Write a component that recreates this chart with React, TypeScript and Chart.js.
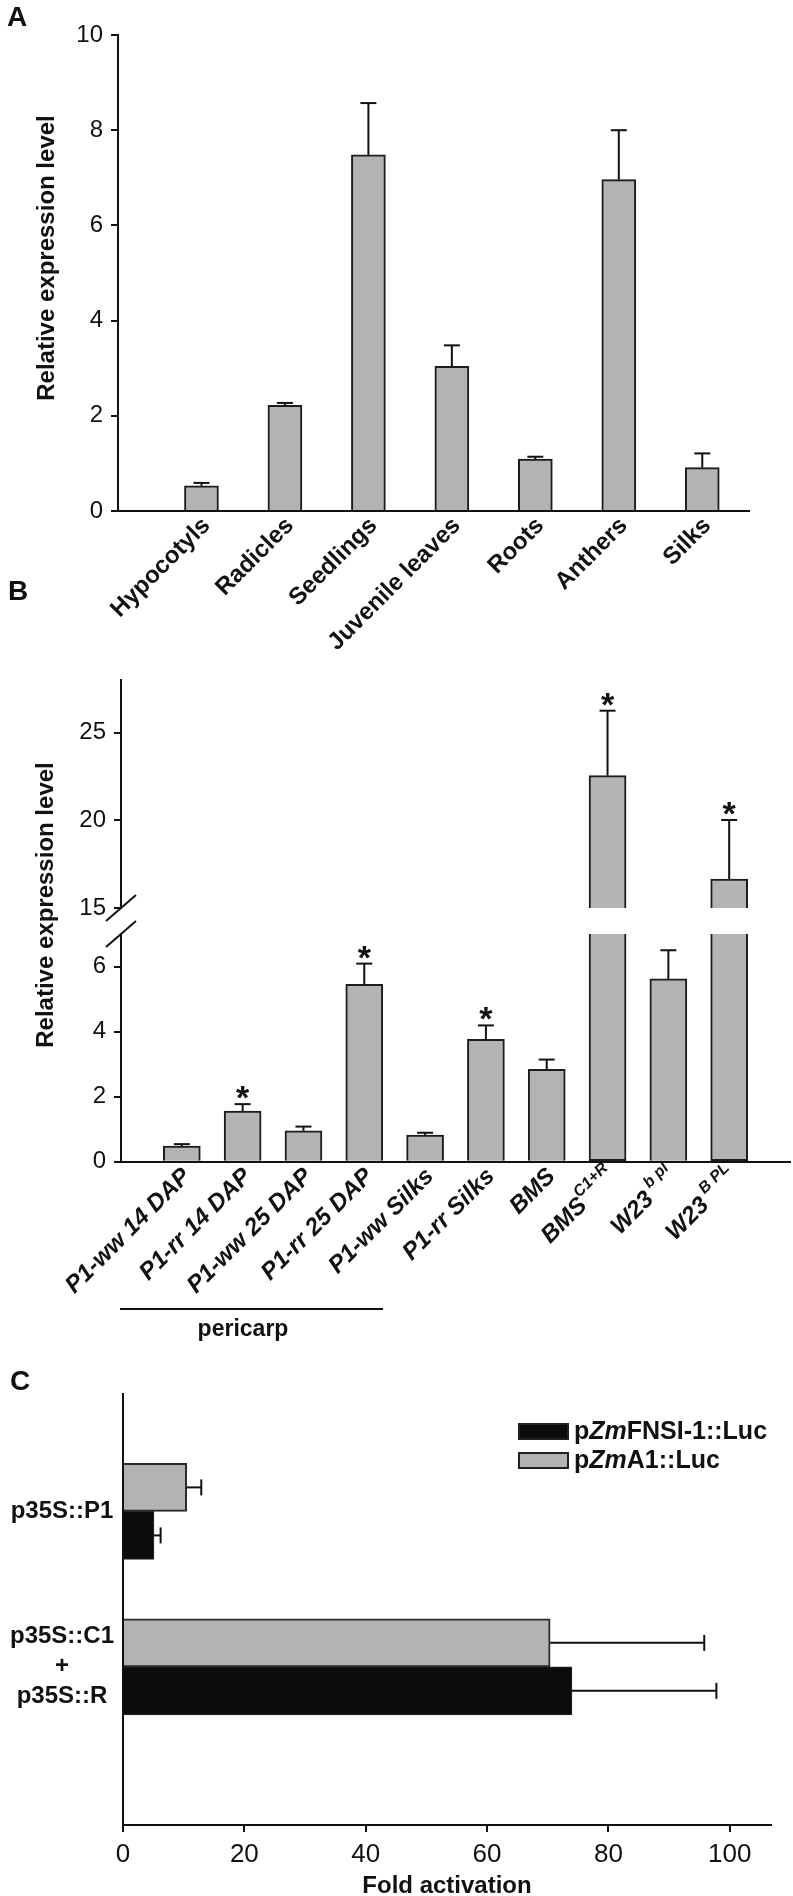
import React, { useEffect, useRef } from 'react';
import { Chart, registerables } from 'chart.js';

Chart.register(...registerables);

const FONT = '"Liberation Sans", Arial, Helvetica, sans-serif';
const INK = '#111111';
const BAR_GRAY = '#b3b3b3';
const BAR_EDGE = '#1c1c1c';
const BAR_BLACK = '#0c0c0c';

// ---------------- Panel A data ----------------
const tissuesA = ['Hypocotyls', 'Radicles', 'Seedlings', 'Juvenile leaves', 'Roots', 'Anthers', 'Silks'];
const expressionA = [0.53, 2.22, 7.48, 3.04, 1.09, 6.96, 0.91];
const errorTopA = [0.59, 2.27, 8.57, 3.48, 1.14, 8.0, 1.21];
const yTicksA = [0, 2, 4, 6, 8, 10];
const yTitle = 'Relative expression level';

// ---------------- Panel B data ----------------
const samplesB = ['P1-ww 14 DAP', 'P1-rr 14 DAP', 'P1-ww 25 DAP', 'P1-rr 25 DAP', 'P1-ww Silks', 'P1-rr Silks', 'BMS', 'BMS', 'W23', 'W23'];
const superB = ['', '', '', '', '', '', '', 'C1+R', ' b pl', ' B PL'];
const expressionB = [0.48, 1.56, 0.95, 5.45, 0.82, 3.76, 2.84, 22.55, 5.62, 16.65];
const errorTopB = [0.54, 1.77, 1.08, 6.09, 0.89, 4.19, 3.14, 26.25, 6.5, 20.02];
const significantB = [false, true, false, true, false, true, false, true, false, true];
const yTicksBLow = [0, 2, 4, 6];
const yTicksBHigh = [15, 20, 25];
const breakLow = 7;
const breakHigh = 15;
const topB = 28;
const groupLabelB = 'pericarp';

// ---------------- Panel C data ----------------
const constructsC = [['p35S::P1'], ['p35S::C1', '+', 'p35S::R']];
const foldA1 = [10.5, 70.4];
const errA1 = [12.9, 95.8];
const foldFNSI = [5.1, 74.0];
const errFNSI = [6.2, 97.8];
const xTicksC = [0, 20, 40, 60, 80, 100];
const xTitleC = 'Fold activation';

// ---------------- layout (page coords) ----------------
const W = 793;
const TOP_A = 0, H_A = 660;
const TOP_B = 540, H_B = 860;
const TOP_C = 1340, H_C = 556;
const C_XAXIS_H = 40;

const f = (size: number, bold = true, italic = false) =>
  `${italic ? 'italic ' : ''}${bold ? 'bold ' : ''}${size}px ${FONT}`;

function text(ctx: CanvasRenderingContext2D, s: string, font: string, x: number, y: number,
  align: CanvasTextAlign = 'left', baseline: CanvasTextBaseline = 'alphabetic', angle = 0) {
  ctx.save();
  ctx.translate(x, y);
  if (angle) ctx.rotate(angle);
  ctx.font = font;
  ctx.textAlign = align;
  ctx.textBaseline = baseline;
  ctx.fillStyle = INK;
  ctx.fillText(s, 0, 0);
  ctx.restore();
}

type Seg = { t: string; font: string; dy?: number };

function richRotated(ctx: CanvasRenderingContext2D, segs: Seg[], x: number, y: number, angle: number) {
  ctx.save();
  ctx.translate(x, y);
  ctx.rotate(angle);
  ctx.textBaseline = 'middle';
  ctx.textAlign = 'left';
  ctx.fillStyle = INK;
  const w = segs.map(s => { ctx.font = s.font; return ctx.measureText(s.t).width; });
  let cx = -w.reduce((a, b) => a + b, 0);
  segs.forEach((s, k) => { ctx.font = s.font; ctx.fillText(s.t, cx, s.dy || 0); cx += w[k]; });
  ctx.restore();
}

function richLeft(ctx: CanvasRenderingContext2D, segs: Seg[], x: number, y: number) {
  ctx.save();
  ctx.textBaseline = 'middle';
  ctx.textAlign = 'left';
  ctx.fillStyle = INK;
  let cx = x;
  segs.forEach(s => { ctx.font = s.font; ctx.fillText(s.t, cx, y); cx += ctx.measureText(s.t).width; });
  ctx.restore();
}

function line(ctx: CanvasRenderingContext2D, x1: number, y1: number, x2: number, y2: number, w = 2) {
  ctx.save();
  ctx.strokeStyle = INK;
  ctx.lineWidth = w;
  ctx.beginPath();
  ctx.moveTo(x1, y1);
  ctx.lineTo(x2, y2);
  ctx.stroke();
  ctx.restore();
}

const yAxisCommon = (width: number, tickValues: number[]) => ({
  type: 'linear' as const,
  position: 'left' as const,
  afterBuildTicks: (s: any) => { s.ticks = tickValues.map(v => ({ value: v })); },
  grid: { drawOnChartArea: false, drawTicks: true, tickLength: 7, color: INK, lineWidth: 2 },
  border: { display: true, color: INK, width: 2 },
  ticks: { font: { size: 24, family: FONT }, color: INK, padding: 8 },
  afterFit: (s: any) => { s.width = width; },
});

export default function App() {
  const refA = useRef<HTMLCanvasElement>(null);
  const refB = useRef<HTMLCanvasElement>(null);
  const refC = useRef<HTMLCanvasElement>(null);

  useEffect(() => {
    Chart.defaults.font.family = FONT;
    Chart.defaults.color = INK;

    // ---------------- Panel A ----------------
    const pluginA = {
      id: 'panelA',
      afterDraw(chart: any) {
        const ctx = chart.ctx as CanvasRenderingContext2D;
        const yS = chart.scales.y;
        const meta = chart.getDatasetMeta(0);
        const o = TOP_A;
        text(ctx, 'A', f(28), 7, 26 - o);
        text(ctx, yTitle, f(24), 47, 258 - o, 'center', 'middle', -Math.PI / 2);
        meta.data.forEach((el: any, i: number) => {
          const ye = yS.getPixelForValue(errorTopA[i]);
          line(ctx, el.x, el.y, el.x, ye);
          line(ctx, el.x - 8, ye, el.x + 8, ye);
          const ax = el.x + 5;
          const ay = chart.chartArea.bottom + 11;
          richRotated(ctx, [{ t: tissuesA[i], font: f(24) }], ax, ay, -Math.PI / 4);
        });
      },
    };
    const chartA = new Chart(refA.current!, {
      type: 'bar',
      data: {
        datasets: [{
          data: expressionA.map((v, i) => ({ x: i, y: v })),
          backgroundColor: BAR_GRAY, borderColor: BAR_EDGE, borderWidth: 2,
          barThickness: 34, borderSkipped: 'start',
        }],
      },
      options: {
        responsive: false, animation: false,
        layout: { padding: { top: 35 - TOP_A, bottom: TOP_A + H_A - 511, left: 0, right: W - 749 } },
        plugins: { legend: { display: false }, tooltip: { enabled: false } },
        scales: {
          x: {
            type: 'linear', min: -1, max: 6.56, offset: false,
            grid: { display: false }, ticks: { display: false },
            border: { display: true, color: INK, width: 2 },
            afterFit: (s: any) => { s.height = 0; },
          },
          y: { ...yAxisCommon(118, yTicksA), min: 0, max: 10 },
        },
      } as any,
      plugins: [pluginA],
    });

    // ---------------- Panel B ----------------
    const pluginB = {
      id: 'panelB',
      afterDraw(chart: any) {
        const ctx = chart.ctx as CanvasRenderingContext2D;
        const o = TOP_B;
        const low = chart.scales.yLow;
        const high = chart.scales.yHigh;
        text(ctx, 'B', f(28), 8, 600 - o);
        text(ctx, yTitle, f(24), 46, 905 - o, 'center', 'middle', -Math.PI / 2);
        // axis break marks
        const axX = chart.chartArea.left;
        const yb1 = high.bottom;
        const yb2 = low.top;
        line(ctx, axX - 15, yb1 + 13, axX + 15, yb1 - 13);
        line(ctx, axX - 15, yb2 + 13, axX + 15, yb2 - 13);
        const metaLow = chart.getDatasetMeta(0);
        const metaHigh = chart.getDatasetMeta(1);
        expressionB.forEach((v, i) => {
          const broken = v > breakLow;
          const el: any = broken ? metaHigh.data[i] : metaLow.data[i];
          const sc = broken ? high : low;
          const ye = sc.getPixelForValue(errorTopB[i]);
          line(ctx, el.x, el.y, el.x, ye);
          line(ctx, el.x - 8, ye, el.x + 8, ye);
          if (significantB[i]) text(ctx, '*', f(34), el.x, ye + 5, 'center', 'alphabetic');
          const segs: Seg[] = [{ t: samplesB[i], font: f(24, true, true) }];
          if (superB[i]) segs.push({ t: superB[i], font: f(16, true, true), dy: -10 });
          richRotated(ctx, segs, el.x + 5, chart.chartArea.bottom + 11, -Math.PI / 4);
        });
        line(ctx, 120, 1309 - o, 383, 1309 - o);
        text(ctx, groupLabelB, f(23), 243, 1330 - o, 'center', 'middle');
      },
    };
    const chartB = new Chart(refB.current!, {
      type: 'bar',
      data: {
        datasets: [
          {
            data: expressionB.map((v, i) => ({ x: i, y: Math.min(v, breakLow) })),
            yAxisID: 'yLow', xAxisID: 'x', grouped: false,
            backgroundColor: BAR_GRAY, borderColor: BAR_EDGE, borderWidth: 2, barThickness: 37,
            borderSkipped: (c: any) => (expressionB[c.dataIndex] > breakLow ? 'top' : 'start'),
          },
          {
            data: expressionB.map((v, i) => ({ x: i, y: v > breakLow ? [breakHigh, v] : null })),
            yAxisID: 'yHigh', xAxisID: 'x', grouped: false,
            backgroundColor: BAR_GRAY, borderColor: BAR_EDGE, borderWidth: 2, barThickness: 37,
            borderSkipped: 'bottom',
          },
        ],
      },
      options: {
        responsive: false, animation: false,
        layout: { padding: { top: 680 - TOP_B, bottom: TOP_B + H_B - 1161.7, left: 0, right: W - 790 } },
        plugins: { legend: { display: false }, tooltip: { enabled: false } },
        scales: {
          x: {
            type: 'linear', min: -1, max: 10, offset: false,
            grid: { display: false }, ticks: { display: false },
            border: { display: true, color: INK, width: 2 },
            afterFit: (s: any) => { s.height = 0; },
          },
          yLow: { ...yAxisCommon(121, yTicksBLow), min: 0, max: breakLow, stack: 'b', stackWeight: 227.7, weight: 1 },
          yGap: {
            type: 'linear', position: 'left', min: 0, max: 1, stack: 'b', stackWeight: 26, weight: 2,
            grid: { display: false }, border: { display: false }, ticks: { display: false },
            afterFit: (s: any) => { s.width = 121; },
          },
          yHigh: { ...yAxisCommon(121, yTicksBHigh), min: breakHigh, max: topB, stack: 'b', stackWeight: 228, weight: 3 },
        },
      } as any,
      plugins: [pluginB],
    });

    // ---------------- Panel C ----------------
    const pluginC = {
      id: 'panelC',
      afterDraw(chart: any) {
        const ctx = chart.ctx as CanvasRenderingContext2D;
        const o = TOP_C;
        const xS = chart.scales.x;
        text(ctx, 'C', f(28), 10, 1390 - o);
        text(ctx, xTitleC, f(24), 447, 1893 - o, 'center', 'alphabetic');
        const errs = [errA1, errFNSI];
        [0, 1].forEach(d => {
          chart.getDatasetMeta(d).data.forEach((el: any, i: number) => {
            const xe = xS.getPixelForValue(errs[d][i]);
            line(ctx, el.x, el.y, xe, el.y);
            line(ctx, xe, el.y - 8, xe, el.y + 8);
          });
        });
        // legend
        const boxes = [
          { fill: BAR_BLACK, y: 1424 - o, segs: [{ t: 'p', font: f(25) }, { t: 'Zm', font: f(25, true, true) }, { t: 'FNSI-1::Luc', font: f(25) }] },
          { fill: BAR_GRAY, y: 1453 - o, segs: [{ t: 'p', font: f(25) }, { t: 'Zm', font: f(25, true, true) }, { t: 'A1::Luc', font: f(25) }] },
        ];
        boxes.forEach(b => {
          ctx.save();
          ctx.fillStyle = b.fill;
          ctx.fillRect(519, b.y, 49, 15);
          ctx.strokeStyle = '#222';
          ctx.lineWidth = 2;
          ctx.strokeRect(519, b.y, 49, 15);
          ctx.restore();
          richLeft(ctx, b.segs, 574, b.y + 8);
        });
      },
    };
    const chartC = new Chart(refC.current!, {
      type: 'bar',
      data: {
        datasets: [
          {
            label: 'pZmA1::Luc',
            data: foldA1.map((v, i) => ({ x: v, y: i })),
            backgroundColor: BAR_GRAY, borderColor: '#2a2a2a', borderWidth: 2, barThickness: 48,
          },
          {
            label: 'pZmFNSI-1::Luc',
            data: foldFNSI.map((v, i) => ({ x: v, y: i })),
            backgroundColor: BAR_BLACK, borderColor: '#2a2a2a', borderWidth: 1, barThickness: 48,
          },
        ],
      },
      options: {
        indexAxis: 'y',
        responsive: false, animation: false,
        layout: { padding: { top: 1389 - TOP_C, bottom: TOP_C + H_C - 1825 - C_XAXIS_H, left: 0, right: W - 771 } },
        plugins: { legend: { display: false }, tooltip: { enabled: false } },
        scales: {
          x: {
            type: 'linear', min: 0, max: 106.8, position: 'bottom', offset: false,
            afterBuildTicks: (s: any) => { s.ticks = xTicksC.map(v => ({ value: v })); },
            grid: { drawOnChartArea: false, drawTicks: true, tickLength: 7, color: INK, lineWidth: 2 },
            border: { display: true, color: INK, width: 2 },
            ticks: { font: { size: 26, family: FONT }, color: INK, padding: 7, maxRotation: 0, autoSkip: false },
            afterFit: (s: any) => { s.height = C_XAXIS_H; },
          },
          y: {
            type: 'linear', min: -0.755, max: 2.017, reverse: true, offset: false, position: 'left',
            afterBuildTicks: (s: any) => { s.ticks = constructsC.map((_, i) => ({ value: i })); },
            grid: { display: false, drawTicks: false },
            border: { display: true, color: INK, width: 2 },
            ticks: {
              font: { size: 24, weight: 'bold', family: FONT, lineHeight: 1.25 }, color: INK,
              padding: 9, crossAlign: 'center',
              callback: (v: any) => constructsC[v] ?? '',
            },
            afterFit: (s: any) => { s.width = 123; },
          },
        },
      } as any,
      plugins: [pluginC],
    });

    return () => { chartA.destroy(); chartB.destroy(); chartC.destroy(); };
  }, []);

  const cs = (top: number, h: number): React.CSSProperties => ({ position: 'absolute', left: 0, top, width: W, height: h, display: 'block' });

  return (
    <div style={{ position: 'absolute', left: 0, top: 0, width: W, height: 1896, background: '#fff', overflow: 'hidden' }}>
      <canvas ref={refA} width={W} height={H_A} style={cs(TOP_A, H_A)} />
      <canvas ref={refB} width={W} height={H_B} style={cs(TOP_B, H_B)} />
      <canvas ref={refC} width={W} height={H_C} style={cs(TOP_C, H_C)} />
    </div>
  );
}
